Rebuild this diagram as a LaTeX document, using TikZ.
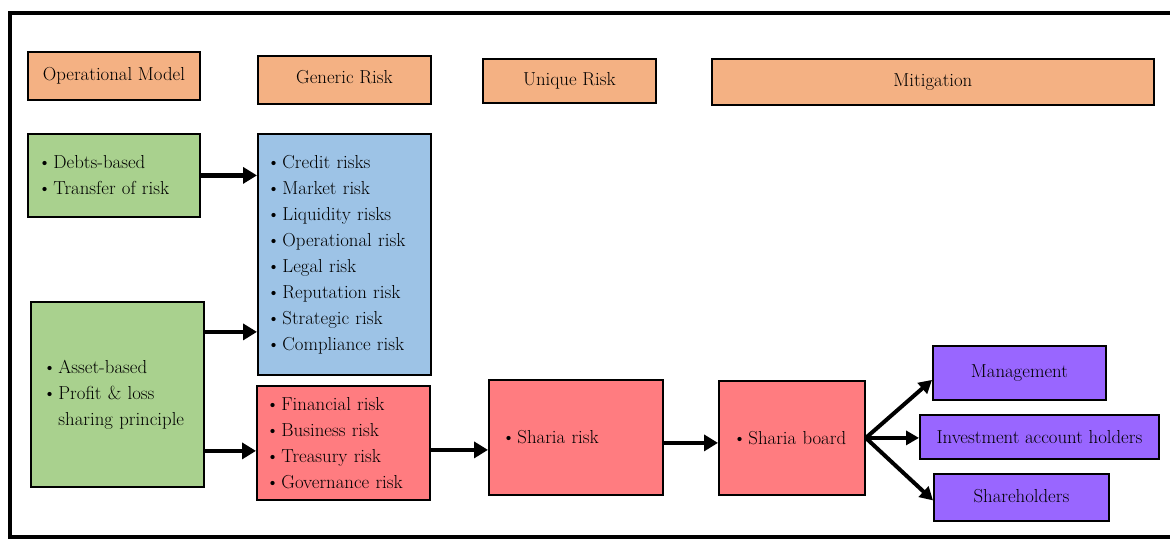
\documentclass[tikz,border=0pt]{standalone}
\usetikzlibrary{arrows.meta,calc}
\definecolor{hdrc}{HTML}{F4B183}
\definecolor{grnc}{HTML}{A9D18E}
\definecolor{bluc}{HTML}{9DC3E6}
\definecolor{redc}{HTML}{FF7C80}
\definecolor{purc}{HTML}{9966FF}
\newcommand\itm{\textbullet\hspace{2pt}}
\begin{document}
\begin{tikzpicture}[x=1pt,y=-1pt,
  box/.style={draw=black, line width=1.8pt, anchor=north west, inner ysep=0pt,
    font=\fontsize{18.8}{26}\selectfont},
  hdr/.style={box, fill=hdrc, align=center, inner xsep=0pt},
  lst/.style={box, align=left},
  purp/.style={box, fill=purc, align=center, inner xsep=0pt},
  arr/.style={line width=4.5pt, -{Triangle[length=14pt,width=16pt]}},
  farr/.style={line width=4pt, -{Triangle[length=13pt,width=14pt]}},
  frame/.style={line width=4pt}]
\useasboundingbox (0,0) rectangle (1170,541);
% frame
\draw[frame] (8,13) -- (1170,13);
\draw[frame] (10,11) -- (10,539);
\draw[frame] (8,537) -- (1170,537);
% headers
\node[hdr, minimum width=172, minimum height=48] (om) at (27,51) {\raisebox{2pt}{Operational Model}};
\node[hdr, minimum width=173, minimum height=48] (gr) at (257,55) {\raisebox{5pt}{Generic Risk}};
\node[hdr, minimum width=173, minimum height=44] (ur) at (482,58) {\raisebox{2pt}{Unique Risk}};
\node[hdr, minimum width=442, minimum height=46] (mi) at (711,58) {\raisebox{1pt}{Mitigation}};
% left column
\node[lst, fill=grnc, inner xsep=10pt, text width=152, minimum height=83] (db) at (27,133)
  {\itm Debts-based\\ \itm Transfer of risk};
\node[lst, fill=grnc, inner xsep=12pt, text width=149, minimum height=185] (ab) at (30,301)
  {\itm Asset-based\\ \itm Profit \& loss\\ \phantom{\itm}sharing principle};
% generic risks
\node[lst, fill=bluc, inner xsep=9pt, text width=155, minimum height=241] (bl) at (257,133)
  {\itm Credit risks\\ \itm Market risk\\ \itm Liquidity risks\\ \itm Operational risk\\
   \itm Legal risk\\ \itm Reputation risk\\ \itm Strategic risk\\ \itm Compliance risk};
\node[lst, fill=redc, inner xsep=9pt, text width=155, minimum height=114] (rd) at (256,385)
  {\itm Financial risk\\ \itm Business risk\\ \itm Treasury risk\\ \itm Governance risk};
% unique risk and mitigation
\node[lst, fill=redc, inner xsep=13pt, text width=148, minimum height=115] (sr) at (488,379)
  {\itm Sharia risk};
\node[lst, fill=redc, inner xsep=14pt, text width=118, minimum height=114] (sb) at (718,380)
  {\itm Sharia board};
\node[purp, minimum width=173, minimum height=54] (mg) at (932,345) {\raisebox{4pt}{Management}};
\node[purp, minimum width=239, minimum height=44] (iah) at (919,414) {Investment account holders};
\node[purp, minimum width=175, minimum height=47] (sh) at (933,473) {\raisebox{2pt}{Shareholders}};
% connectors
\draw[arr] (db.east) -- (db.east -| bl.west);
\draw[arr] ([yshift=62.5pt]ab.east) -- ([yshift=62.5pt]ab.east -| bl.west);
\draw[arr] ([yshift=-56.5pt]ab.east) -- ([yshift=-56.5pt]ab.east -| rd.west);
\draw[arr] ([yshift=-7pt]rd.east) -- ([yshift=-7pt]rd.east -| sr.west);
\draw[arr] ([yshift=-5.5pt]sr.east) -- ([yshift=-5.5pt]sr.east -| sb.west);
\draw[farr] (sb.east) -- ([yshift=-7pt]mg.west);
\draw[farr] (sb.east) -- (sb.east -| iah.west);
\draw[farr] (sb.east) -- ([yshift=-3pt]sh.west);
\end{tikzpicture}
\end{document}
